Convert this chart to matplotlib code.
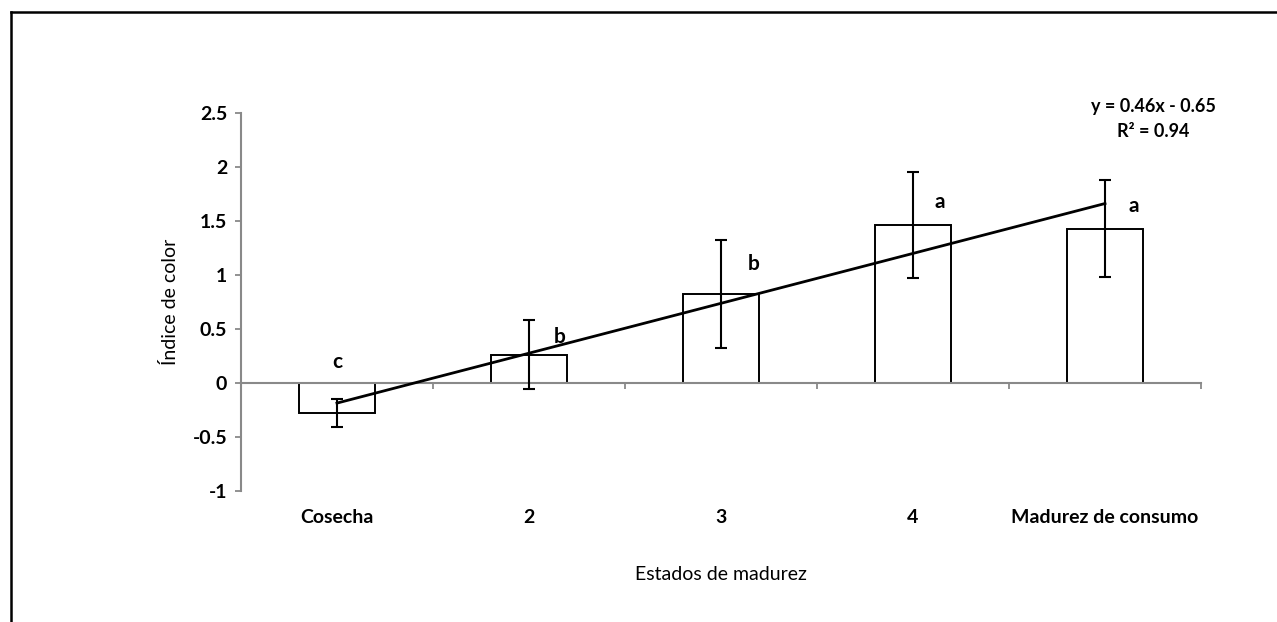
import matplotlib.pyplot as plt
import numpy as np
from matplotlib.lines import Line2D

plt.rcParams['font.family'] = ['Lato', 'DejaVu Sans']

# data
categories = ['Cosecha', '2', '3', '4', 'Madurez de consumo']
values = [-0.28, 0.26, 0.82, 1.46, 1.43]
errors = [0.13, 0.32, 0.50, 0.49, 0.45]
letters = ['c', 'b', 'b', 'a', 'a']
letter_x = [0.0, 1.16, 2.17, 3.14, 4.15]
letter_y = [0.19, 0.43, 1.10, 1.68, 1.64]

gray = '#898989'

fig = plt.figure(figsize=(12.77, 6.22), dpi=100)
ax = fig.add_axes([0.1887, 0.2106, 0.7518, 0.6077])

x = np.arange(len(categories))
ax.bar(x, values, width=0.4, color='white', edgecolor='black', linewidth=1.4, zorder=2)
ax.errorbar(x, values, yerr=errors, fmt='none', ecolor='black', elinewidth=1.5,
            capsize=4, capthick=1.5, zorder=4)

# linear trend line through the bar means (x = 1..5 like Excel)
slope, intercept = np.polyfit(x + 1, values, 1)
ax.plot(x, slope * (x + 1) + intercept, color='black', linewidth=2, zorder=5)
r2 = np.corrcoef(x + 1, values)[0, 1] ** 2
ax.text(4.25, 2.56, f'y = {slope:.2f}x - {abs(intercept):.2f}', ha='center', va='center',
        fontsize=13, fontweight='bold')
ax.text(4.25, 2.33, f'R² = {r2:.2f}', ha='center', va='center',
        fontsize=13, fontweight='bold')

for lx, ly, t in zip(letter_x, letter_y, letters):
    ax.text(lx, ly, t, ha='center', va='center', fontsize=15, fontweight='bold')

ax.set_xlim(-0.5, 4.5)
ax.set_ylim(-1, 2.5)
ax.set_yticks([-1, -0.5, 0, 0.5, 1, 1.5, 2, 2.5])
ax.set_yticklabels(['-1', '-0.5', '0', '0.5', '1', '1.5', '2', '2.5'])

for s in ['top', 'right']:
    ax.spines[s].set_visible(False)
ax.spines['left'].set_color(gray)
ax.spines['left'].set_linewidth(1.5)
ax.spines['bottom'].set_color(gray)
ax.spines['bottom'].set_linewidth(1.5)
ax.spines['bottom'].set_position(('data', 0))
ax.spines['bottom'].set_zorder(3)

ax.set_xticks(x)
ax.set_xticklabels(categories)
ax.set_xticks(np.arange(-0.5, 5, 1), minor=True)
ax.tick_params(axis='x', which='major', length=0, pad=91, labelsize=14)
ax.tick_params(axis='x', which='minor', length=4, width=1.3, color=gray, direction='out')
ax.tick_params(axis='y', length=4, width=1.3, color=gray, labelsize=14, pad=6)
for lab in ax.get_xticklabels() + ax.get_yticklabels():
    lab.set_fontweight('bold')

ax.set_ylabel('Índice de color', fontsize=14, labelpad=10)
fig.text(721 / 1277, 1 - 574 / 622, 'Estados de madurez', ha='center', va='center', fontsize=14)

# outer frame (left and top edges visible)
fig.add_artist(Line2D([11 / 1277, 11 / 1277], [0, 1 - 12 / 622], color='black', linewidth=1.8,
                      transform=fig.transFigure))
fig.add_artist(Line2D([11 / 1277, 1], [1 - 12 / 622, 1 - 12 / 622], color='black', linewidth=1.8,
                      transform=fig.transFigure))

fig.savefig('out.png', dpi=100)
